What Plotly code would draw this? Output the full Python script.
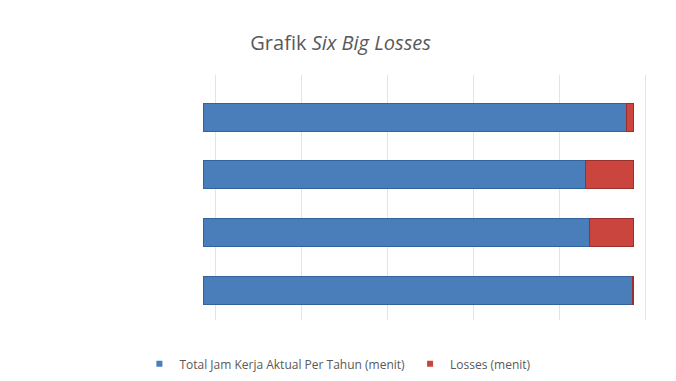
import plotly.graph_objects as go

categories = ["Tahun 4", "Tahun 3", "Tahun 2", "Tahun 1"]
total_jam_kerja = [485000, 435000, 430000, 480000]
losses = [500, 49000, 54000, 7000]

series_names = ["Total Jam Kerja Aktual Per Tahun (menit)", "Losses (menit)"]
colors = ["#4a7ebb", "#c9453e"]
edge_colors = ["#33639c", "#9a302b"]

fig = go.Figure()
for name, vals, c, ec in zip(series_names, [total_jam_kerja, losses], colors, edge_colors):
    fig.add_trace(go.Bar(
        y=categories, x=vals, name=name, orientation="h",
        marker=dict(color=c, line=dict(color=ec, width=1)),
        showlegend=False, legendgroup=name,
    ))
    # small square legend swatch
    fig.add_trace(go.Scatter(
        x=[None], y=[None], mode="markers", name=name, legendgroup=name,
        marker=dict(symbol="square", size=6, color=c),
    ))

# invisible trace on the shifted axis so the back-wall gridlines are drawn
fig.add_trace(go.Scatter(x=[None], y=[None], xaxis="x2", showlegend=False,
                         hoverinfo="skip"))

fig.update_layout(
    width=676, height=381,
    barmode="stack", barnorm="percent", bargap=0.515,
    paper_bgcolor="white", plot_bgcolor="white",
    margin=dict(l=187, r=29, t=67, b=69),
    font=dict(family="Open Sans", color="#595959"),
    title=dict(
        text="Grafik <i>Six Big Losses</i>",
        font=dict(size=20, color="#595959", family="Open Sans"),
        xref="container", x=0.492, xanchor="center",
        yref="container", y=0.908, yanchor="middle",
    ),
    xaxis=dict(range=[-1.86, 105.1], showgrid=False, zeroline=False,
               showticklabels=False, ticks=""),
    xaxis2=dict(overlaying="x", range=[-4.88, 102.1], dtick=20, tick0=0,
                showgrid=True, gridcolor="#e1e5ea", gridwidth=1,
                zeroline=False, showticklabels=False, ticks="", side="bottom"),
    yaxis=dict(range=[-0.52, 3.73], showticklabels=False, showgrid=False,
               zeroline=False, ticks=""),
    legend=dict(
        orientation="h", xref="container", x=0.488, xanchor="center",
        yref="container", y=0.066, yanchor="middle",
        font=dict(size=12, color="#595959"), itemwidth=30,
        traceorder="normal",
    ),
)

fig.write_html("out.html")
